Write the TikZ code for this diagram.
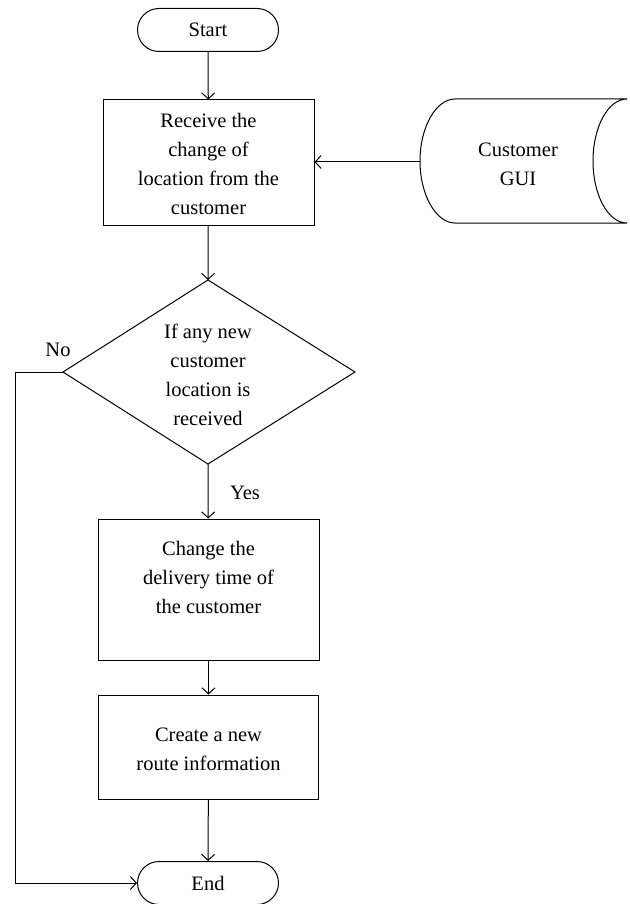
\documentclass[tikz,border=0pt]{standalone}
\usepackage{fontspec}
\setmainfont{Liberation Serif}
\usetikzlibrary{arrows.meta}
\begin{document}
\begin{tikzpicture}[x=1pt,y=-1pt,line width=1pt,
  arr/.style={-{Straight Barb[length=6pt,width=13pt,line width=1pt]}},
  txt/.style={align=center,font=\fontsize{20.5}{29}\selectfont,inner sep=0pt},
  term/.style={draw,rounded corners=21.5pt,minimum width=141pt,minimum height=43pt,inner sep=0pt,font=\fontsize{20.5}{29}\selectfont},
  boxnode/.style={draw,inner sep=0pt}]
\useasboundingbox (0,0) rectangle (629,904);
% terminals
\node[term] (start) at (208,30) {Start};
\node[term] (end) at (208,883) {End};
% process boxes
\node[boxnode,minimum width=211pt,minimum height=125pt] (b1) at (208.5,162.5) {};
\node[txt] (b1t) at (208.5,164) {Receive the\\change of\\location from the\\customer};
\node[boxnode,minimum width=221pt,minimum height=141pt] (b2) at (208.5,589.5) {};
\node[txt] (b2t) at (208.5,577) {Change the\\delivery time of\\the customer};
\node[boxnode,minimum width=220pt,minimum height=104pt] (b3) at (208.5,747) {};
\node[txt] (b3t) at (208.5,749) {Create a new\\route information};
% decision
\coordinate (dT) at (208,280);
\coordinate (dL) at (63,372);
\coordinate (dR) at (355,372);
\coordinate (dB) at (208,464);
\draw (dT) -- (dR) -- (dB) -- (dL) -- cycle;
\node[txt] (dec) at (208,375) {If any new\\customer\\location is\\received};
% stored data
\draw (627,99) -- (455,99) .. controls (436,99) and (420,127) .. (420,161)
  .. controls (420,195) and (436,223) .. (455,223) -- (627,223)
  .. controls (608,223) and (593,195) .. (593,161)
  .. controls (593,127) and (608,99) .. (627,99);
\coordinate (guiL) at (420,162);
\node[txt] (gui) at (518,164) {Customer\\GUI};
% connectors
\draw[arr] (start) -- (b1);
\draw[arr] (guiL) -- (guiL -| b1.east);
\draw[arr] (b1) -- (dT);
\draw[arr] (dB) -- (b2);
\draw[arr] (b2) -- (b3);
\draw[arr] (b3) -- (end);
\coordinate (c1) at (15,372);
\coordinate (c2) at (15,883);
\draw[arr] (dL) -- (c1) -- (c2) -- (end.west);
% labels
\node[txt] (no) at (58,350) {No};
\node[txt] (yes) at (245,493) {Yes};
\end{tikzpicture}
\end{document}
